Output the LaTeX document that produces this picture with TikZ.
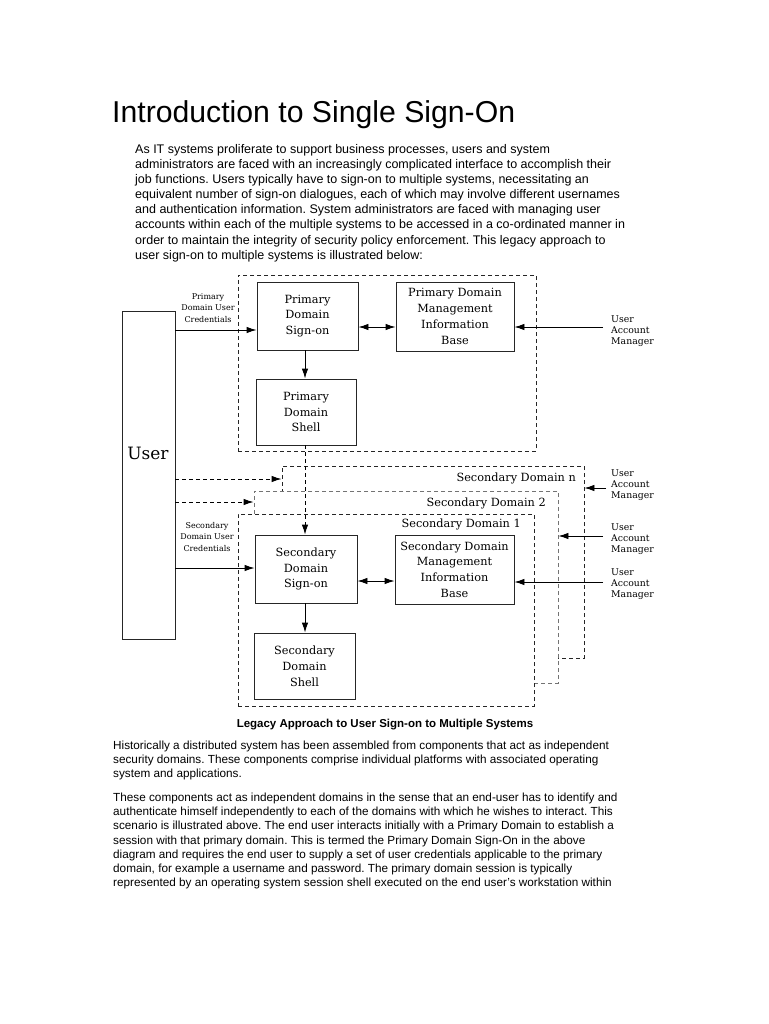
\documentclass[tikz,border=0pt]{standalone}
\usepackage{fontspec}
\setmainfont{Liberation Sans}
\newfontfamily\diagfont{DejaVu Serif}
\usetikzlibrary{arrows.meta}
\frenchspacing
\begin{document}
\begin{tikzpicture}[x=1pt,y=-1pt,
  box/.style={draw=black!85, line width=0.9pt, fill=white, align=center, inner sep=0pt,
     font=\diagfont\fontsize{11.3}{15.8}\selectfont},
  dom/.style={draw=black!85, dash pattern=on 4pt off 3pt, line width=0.9pt, fill=white, inner sep=0pt},
  domlbl/.style={anchor=base east, inner sep=0pt, font=\diagfont\fontsize{11.3}{13}\selectfont},
  small/.style={align=center, inner sep=0pt, font=\diagfont\fontsize{8}{11.5}\selectfont},
  uam/.style={anchor=west, align=left, inner sep=0pt, font=\diagfont\fontsize{9.3}{11}\selectfont},
  arr/.style={-{Latex[length=10pt,width=6.5pt]}, line width=0.9pt},
  darr/.style={{Latex[length=10pt,width=6.5pt]}-{Latex[length=10pt,width=6.5pt]}, line width=0.9pt},
  dasharr/.style={-{Latex[length=10pt,width=6.5pt]}, line width=0.9pt, dash pattern=on 4pt off 3pt},
  pa/.style={anchor=base west, inner sep=0pt, font=\fontsize{12.5}{14}\selectfont},
  pb/.style={anchor=base west, inner sep=0pt, font=\fontsize{11.75}{14}\selectfont}]
\useasboundingbox[fill=white] (0,0) rectangle (768,1024);

% title
\node[anchor=base west, inner sep=0pt, font=\fontsize{30.2}{34}\selectfont] (title) at (112,123) {Introduction to Single Sign-On};

% paragraph 1
\node[pa] (p1a) at (135,153.5) {As IT systems proliferate to support business processes, users and system};
\node[pa] (p1b) at (135,168.6) {administrators are faced with an increasingly complicated interface to accomplish their};
\node[pa] (p1c) at (135,183.7) {job functions. Users typically have to sign-on to multiple systems, necessitating an};
\node[pa] (p1d) at (135,198.8) {equivalent number of sign-on dialogues, each of which may involve different usernames};
\node[pa] (p1e) at (135,213.9) {and authentication information. System administrators are faced with managing user};
\node[pa] (p1f) at (135,229.0) {accounts within each of the multiple systems to be accessed in a co-ordinated manner in};
\node[pa] (p1g) at (135,244.1) {order to maintain the integrity of security policy enforcement. This legacy approach to};
\node[pa] (p1h) at (135,259.2) {user sign-on to multiple systems is illustrated below:};

% ---- diagram ----
% primary domain
\node[dom, minimum width=298pt, minimum height=176pt] (pdom) at (387,363) {};
% secondary domains (back to front)
\node[dom, minimum width=302pt, minimum height=192pt] (sdn) at (433,562) {};
\node[dom, draw=black!55, minimum width=304pt, minimum height=192pt] (sd2) at (406,587) {};
\node[dom, minimum width=296pt, minimum height=192pt] (sd1) at (386,610) {};
\node[domlbl] (sdnl) at (576,481) {Secondary Domain n};
\node[domlbl] (sd2l) at (546,506) {Secondary Domain 2};
\node[domlbl] (sd1l) at (521,527) {Secondary Domain 1};

% user
\node[box, minimum width=53pt, minimum height=328pt] (user) at (148.5,475) {};
\node[inner sep=0pt, font=\diagfont\fontsize{17}{20}\selectfont] (usert) at (148,453) {User};

% primary boxes
\node[box, minimum width=101pt, minimum height=68pt] (psign) at (307.5,316) {Primary\\Domain\\Sign-on};
\node[box, minimum width=100pt, minimum height=66pt] (pshell) at (306,412) {Primary\\Domain\\Shell};
\node[box, minimum width=118pt, minimum height=69pt] (pmib) at (455,316.5) {Primary Domain\\Management\\Information\\Base};

% secondary boxes
\node[box, minimum width=102pt, minimum height=68pt] (ssign) at (306,569) {Secondary\\Domain\\Sign-on};
\node[box, minimum width=101pt, minimum height=66pt] (sshell) at (304.5,666) {Secondary\\Domain\\Shell};
\node[box, minimum width=119pt, minimum height=69pt] (smib) at (454.5,569.5) {Secondary Domain\\Management\\Information\\Base};

% credentials labels
\node[small] (pcred) at (208,308) {Primary\\Domain User\\Credentials};
\node[small] (scred) at (207,537) {Secondary\\Domain User\\Credentials};

% user account manager labels
\node[uam] (uam1) at (611,331) {User\\Account\\Manager};
\node[uam] (uamn) at (611,485) {User\\Account\\Manager};
\node[uam] (uam2) at (611,539) {User\\Account\\Manager};
\node[uam] (uam3) at (611,584) {User\\Account\\Manager};
\coordinate (c1) at (603,327);
\coordinate (cn) at (606,488);
\coordinate (c2) at (603,536);
\coordinate (c3) at (603,582);

% connectors
\draw[arr] (user.east |- 0,330) -- (psign.west |- 0,330);
\draw[darr] (psign.east |- 0,327) -- (pmib.west |- 0,327);
\draw[arr] (psign.south -| 305,0) -- (pshell.north -| 305,0);
\draw[arr] (c1) -- (pmib.east |- c1);

\draw[dasharr] (user.east |- 0,479) -- (sdn.west |- 0,479);
\draw[dasharr] (user.east |- 0,502) -- (sd2.west |- 0,502);
\draw[dasharr] (pshell.south -| 305,0) -- (ssign.north -| 305,0);

\draw[arr] (user.east |- 0,568) -- (ssign.west |- 0,568);
\draw[darr] (ssign.east |- 0,581) -- (smib.west |- 0,581);
\draw[arr] (ssign.south -| 305,0) -- (sshell.north -| 305,0);
\draw[arr] (c3) -- (smib.east |- c3);
\draw[arr] (c2) -- (sd2.east |- c2);
\draw[arr] (cn) -- (sdn.east |- cn);

% caption
\node[anchor=base, inner sep=0pt, font=\bfseries\fontsize{11.5}{14}\selectfont] (cap) at (385,727) {Legacy Approach to User Sign-on to Multiple Systems};

% paragraph 2
\node[pb] (p2a) at (113,749.5) {Historically a distributed system has been assembled from components that act as independent};
\node[pb] (p2b) at (113,763.7) {security domains. These components comprise individual platforms with associated operating};
\node[pb] (p2c) at (113,777.9) {system and applications.};

% paragraph 3
\node[pb] (p3a) at (113,801.5) {These components act as independent domains in the sense that an end-user has to identify and};
\node[pb] (p3b) at (113,815.7) {authenticate himself independently to each of the domains with which he wishes to interact. This};
\node[pb] (p3c) at (113,829.9) {scenario is illustrated above. The end user interacts initially with a Primary Domain to establish a};
\node[pb] (p3d) at (113,844.1) {session with that primary domain. This is termed the Primary Domain Sign-On in the above};
\node[pb] (p3e) at (113,858.3) {diagram and requires the end user to supply a set of user credentials applicable to the primary};
\node[pb] (p3f) at (113,872.5) {domain, for example a username and password. The primary domain session is typically};
\node[pb] (p3g) at (113,886.7) {represented by an operating system session shell executed on the end user's workstation within};
\end{tikzpicture}
\end{document}
